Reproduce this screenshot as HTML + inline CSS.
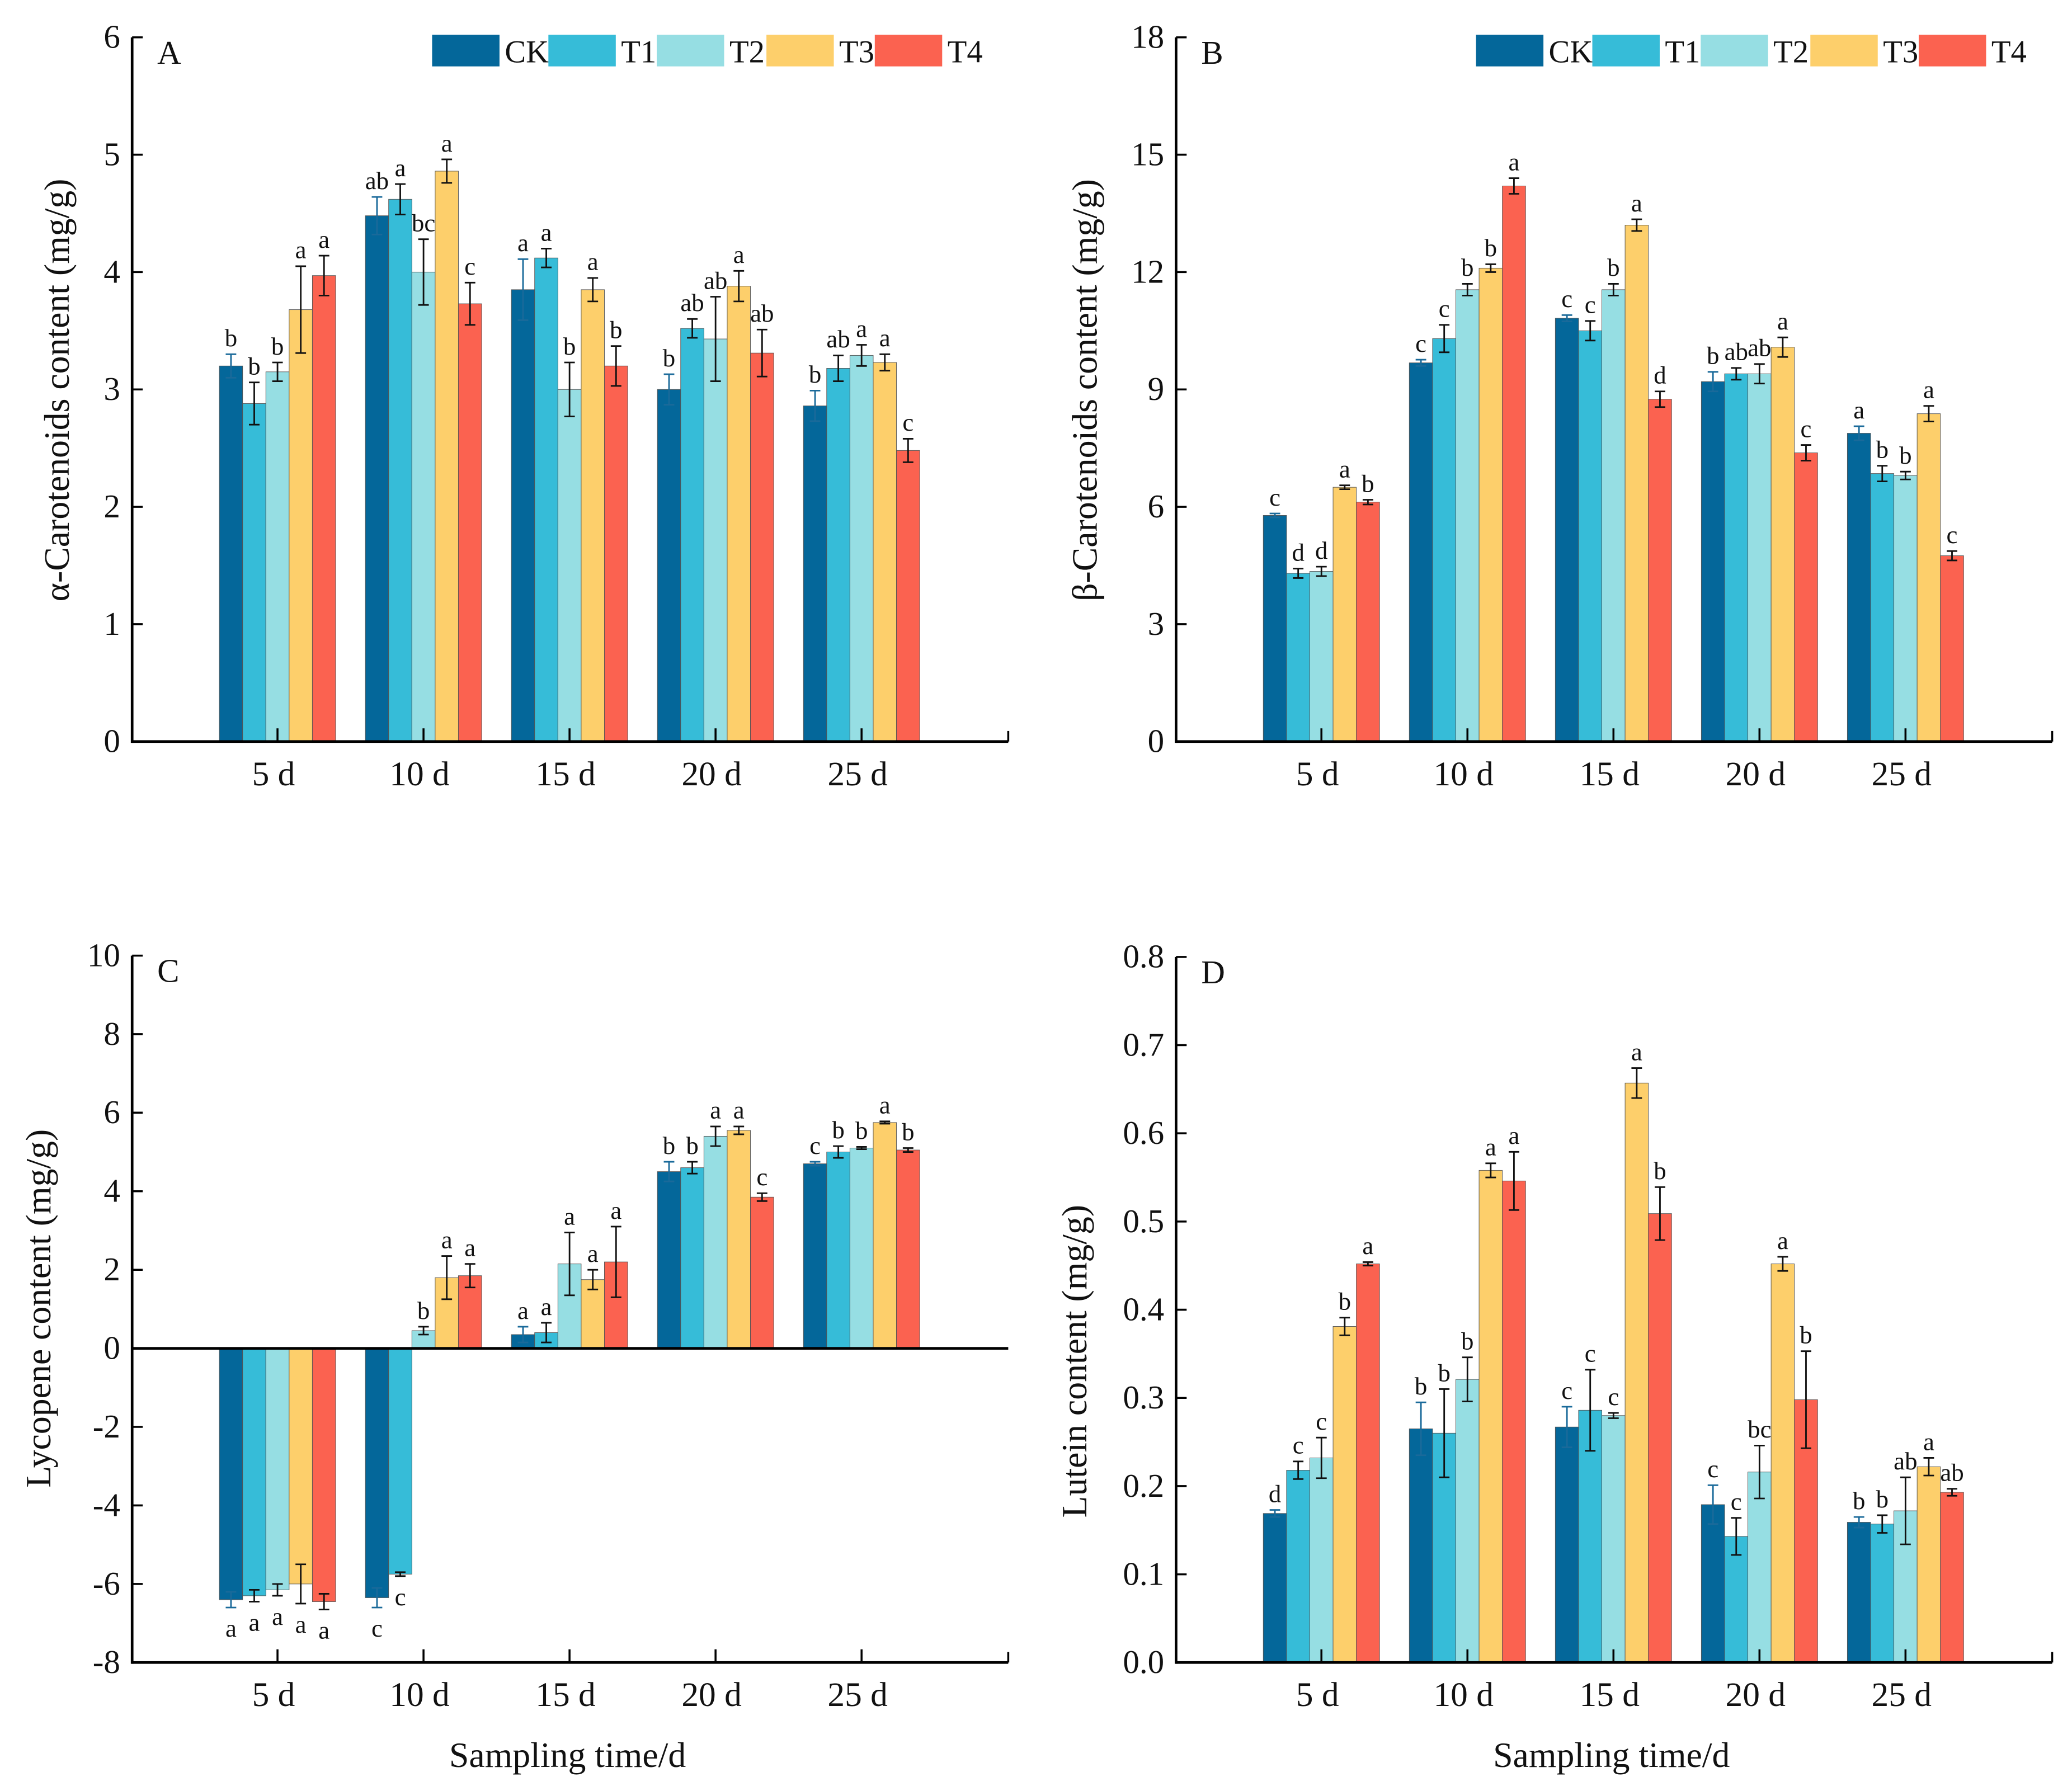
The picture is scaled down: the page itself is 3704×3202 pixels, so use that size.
<!DOCTYPE html>
<html><head><meta charset="utf-8"><style>
html,body{margin:0;padding:0;background:#fff}
svg{display:block}
text{font-family:"Liberation Serif",serif;fill:#111}
</style></head><body>
<svg id="fig" width="3704" height="3202" viewBox="0 0 1568 1355" xmlns="http://www.w3.org/2000/svg"></svg>
<script>
const series=["CK","T1","T2","T3","T4"];
const categories=["5 d","10 d","15 d","20 d","25 d"];
const colors=["#04679a","#36bcd8","#96dee3","#fdcf6b","#fb6250"];
// Panel A
const aVals=[[3.2,2.88,3.15,3.68,3.97],[4.48,4.62,4.0,4.86,3.73],[3.85,4.12,3.0,3.85,3.2],[3.0,3.52,3.43,3.88,3.31],[2.86,3.18,3.29,3.23,2.48]];
const aErr=[[.1,.18,.08,.37,.17],[.16,.13,.28,.1,.18],[.26,.08,.23,.1,.17],[.13,.08,.36,.13,.2],[.13,.11,.09,.07,.1]];
const aLet=[["b","b","b","a","a"],["ab","a","bc","a","c"],["a","a","b","a","b"],["b","ab","ab","a","ab"],["b","ab","a","a","c"]];
const aTicks=[0,1,2,3,4,5,6];
// Panel B
const bVals=[[5.78,4.3,4.35,6.5,6.12],[9.68,10.3,11.55,12.1,14.2],[10.82,10.5,11.55,13.2,8.75],[9.2,9.4,9.4,10.08,7.38],[7.88,6.85,6.8,8.38,4.75]];
const bErr=[[.05,.12,.12,.05,.06],[.08,.35,.15,.1,.2],[.08,.25,.15,.15,.2],[.25,.15,.25,.25,.2],[.18,.2,.1,.2,.12]];
const bLet=[["c","d","d","a","b"],["c","c","b","b","a"],["c","c","b","a","d"],["b","ab","ab","a","c"],["a","b","b","a","c"]];
const bTicks=[0,3,6,9,12,15,18];
// Panel C
const cVals=[[-6.4,-6.3,-6.15,-6.0,-6.45],[-6.35,-5.75,0.45,1.8,1.85],[0.35,0.4,2.15,1.75,2.2],[4.5,4.6,5.4,5.55,3.85],[4.7,5.0,5.1,5.75,5.05]];
const cErr=[[.2,.15,.15,.5,.2],[.25,.05,.1,.55,.3],[.2,.25,.8,.25,.9],[.25,.15,.25,.1,.1],[.05,.15,.03,.03,.05]];
const cLet=[["a","a","a","a","a"],["c","c","b","a","a"],["a","a","a","a","a"],["b","b","a","a","c"],["c","b","b","a","b"]];
const cTicks=[-8,-6,-4,-2,0,2,4,6,8,10];
// Panel D
const dVals=[[.169,.218,.232,.381,.452],[.265,.26,.321,.558,.546],[.267,.286,.28,.657,.509],[.179,.143,.216,.452,.298],[.159,.157,.172,.222,.193]];
const dErr=[[.004,.01,.023,.01,.002],[.03,.05,.025,.008,.033],[.023,.046,.003,.017,.03],[.022,.021,.03,.008,.055],[.006,.01,.038,.01,.004]];
const dLet=[["d","c","c","b","a"],["b","b","b","a","a"],["c","c","c","a","b"],["c","c","bc","a","b"],["b","b","ab","a","ab"]];
const dTicks=[0,0.1,0.2,0.3,0.4,0.5,0.6,0.7,0.8];

const NS="http://www.w3.org/2000/svg";
const svg=document.getElementById('fig');
function el(tag,attrs,parent,txt){const e=document.createElementNS(NS,tag);for(const k in attrs)e.setAttribute(k,attrs[k]);if(txt!==undefined)e.textContent=txt;(parent||svg).appendChild(e);return e;}

function panel(o){
  const g=el('g',{});
  
  
  const ymin=o.ticks[0],ymax=o.ticks[o.ticks.length-1];
  const y=v=>o.bottom-(v-ymin)/(ymax-ymin)*(o.bottom-o.top);
  const cx=i=>o.ax+110+110.5*i;
  const bw=17.6;
  const y0=y(Math.max(0,ymin));
  for(let i=0;i<categories.length;i++){
    for(let s=0;s<series.length;s++){
      const v=o.vals[i][s],e=o.err[i][s];
      const x=cx(i)-2.5*bw+s*bw;
      const r=el('rect',{x:x,y:Math.min(y(v),y0),width:bw,height:Math.abs(y(v)-y0),fill:colors[s],stroke:'#555','stroke-width':0.4},g);
      
      
      const xm=x+bw/2, ec=s===0?'#1a6a9a':'#111';
      el('line',{x1:xm,x2:xm,y1:y(v-e),y2:y(v+e),stroke:ec,'stroke-width':1.2},g);
      el('line',{x1:xm-4,x2:xm+4,y1:y(v-e),y2:y(v-e),stroke:ec,'stroke-width':1.2},g);
      el('line',{x1:xm-4,x2:xm+4,y1:y(v+e),y2:y(v+e),stroke:ec,'stroke-width':1.2},g);
      const ly=v<0?y(v-e)+22:y(v+e)-6;
      const t=el('text',{x:xm,y:ly,'text-anchor':'middle','font-size':19},g,o.lets[i][s]);
      
      
    }
  }
  el('line',{x1:o.ax,x2:o.ax,y1:o.top,y2:o.bottom+1,stroke:'#000','stroke-width':2},g);
  el('line',{x1:o.ax,x2:o.right,y1:o.bottom,y2:o.bottom,stroke:'#000','stroke-width':2},g);
  el('line',{x1:o.right,x2:o.right,y1:o.bottom-8,y2:o.bottom,stroke:'#000','stroke-width':1.5},g);
  if(ymin<0) el('line',{x1:o.ax,x2:o.right,y1:y(0),y2:y(0),stroke:'#000','stroke-width':2},g);
  o.ticks.forEach(tv=>{
    el('line',{x1:o.ax,x2:o.ax+8,y1:y(tv),y2:y(tv),stroke:'#000','stroke-width':1.5},g);
    const t=el('text',{x:o.ax-9,y:y(tv)+8,'text-anchor':'end','font-size':25},g,o.fmt(tv));
    
    
  });
  categories.forEach((c,i)=>{
    el('line',{x1:cx(i),x2:cx(i),y1:o.bottom,y2:o.bottom-10,stroke:'#000','stroke-width':1.5},g);
    const t=el('text',{x:cx(i)-3,y:o.bottom+33,'text-anchor':'middle','font-size':26},g,c);
    
    
  });
  const pl=el('text',{x:o.ax+19,y:o.top+20,'font-size':25},g,o.letter);
  
  
  const yt=el('text',{x:0,y:0,'text-anchor':'middle','font-size':27,transform:`translate(${o.ytx},${o.yty}) rotate(-90)`},g,o.ytitle);
  
  
  if(o.xtitle){
    const xt=el('text',{x:(o.ax+o.right)/2-2,y:1337,'text-anchor':'middle','font-size':27},g,'Sampling time/d');
    
    
  }
  if(o.legend){
    const bx=[327,415,497,580,662];
    series.forEach((s,k)=>{
      const lg=el('g',{},g);
      
      
      el('rect',{x:o.ax-100+bx[k],y:26,width:51,height:24,fill:colors[k]},lg);
      el('text',{x:o.ax-100+bx[k]+55,y:47,'font-size':24},lg,s);
    });
  }
}
const f0=v=>String(v), f1=v=>v.toFixed(1);
panel({letter:'A',ax:100,right:763,top:28,bottom:561,ticks:aTicks,vals:aVals,err:aErr,lets:aLet,fmt:f0,ytitle:'α-Carotenoids content (mg/g)',ytx:52,yty:295,legend:true});
panel({letter:'B',ax:890,right:1553,top:28,bottom:561,ticks:bTicks,vals:bVals,err:bErr,lets:bLet,fmt:f0,ytitle:'β-Carotenoids content (mg/g)',ytx:830,yty:295,legend:true});
panel({letter:'C',ax:100,right:763,top:723,bottom:1258,ticks:cTicks,vals:cVals,err:cErr,lets:cLet,fmt:f0,ytitle:'Lycopene content (mg/g)',ytx:38,yty:990,xtitle:true});
panel({letter:'D',ax:890,right:1553,top:724,bottom:1258,ticks:dTicks,vals:dVals,err:dErr,lets:dLet,fmt:f1,ytitle:'Lutein content (mg/g)',ytx:822,yty:1030,xtitle:true});
</script>
</body></html>
